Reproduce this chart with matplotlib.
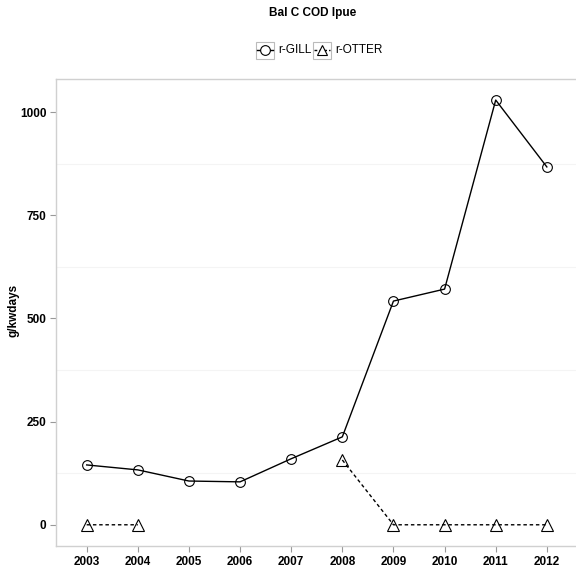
import matplotlib.pyplot as plt
from matplotlib.lines import Line2D
from matplotlib.patches import Rectangle
import numpy as np

years = [2003, 2004, 2005, 2006, 2007, 2008, 2009, 2010, 2011, 2012]
gill = [145, 133, 106, 104, 160, 213, 542, 571, 1029, 867]
otter = [0, 0, np.nan, np.nan, np.nan, 157, 0, 0, 0, 0]
yticks = [0, 250, 500, 750, 1000]
minor_y = [125, 375, 625, 875]

W, H = 576, 571


def main():
    plt.rcParams["font.family"] = ["Liberation Sans", "DejaVu Sans"]
    fig = plt.figure(figsize=(W / 100, H / 100), dpi=100)

    # axes in pixel terms: left 56, right 576, top 79, bottom 546
    ax = fig.add_axes([56 / W, (H - 546) / H, 520 / W, (546 - 79) / H])
    xpx = np.arange(len(years))
    ax.set_xlim(-0.6, (576 - 86) / 51.2)
    ax.set_ylim(-51.4, 1080)

    for y in minor_y:
        ax.axhline(y, color="#f4f4f4", lw=0.8, zorder=0)

    ax.plot(xpx, gill, color="black", lw=1.0, marker="o", ms=7,
            mfc="none", mec="black", mew=0.8)
    ax.plot(xpx, otter, color="black", lw=1.0, ls=(0, (2.5, 2)), marker="^",
            ms=8, mfc="none", mec="black", mew=0.8)

    ax.set_xticks(xpx)
    ax.set_xticklabels([str(y) for y in years], fontweight="bold", fontsize=8.5)
    ax.set_yticks(yticks)
    ax.set_yticklabels([str(y) for y in yticks], fontweight="bold", fontsize=8.5)
    ax.tick_params(length=4, width=0.8, color="#999999", pad=3)
    for side in ["left", "bottom", "top"]:
        ax.spines[side].set_color("#d0d0d0")
        ax.spines[side].set_linewidth(1.0)
    ax.spines["right"].set_visible(False)

    def px(x, y):
        return x / W, 1 - y / H

    lx, ly = px(14, 310)
    fig.text(lx, ly, "g/kwdays", rotation=90, ha="center", va="center",
             fontweight="bold", fontsize=8.5)

    tx, ty = px(313, 13)
    fig.text(tx, ty, "Bal C COD lpue", ha="center", va="center",
             fontweight="bold", fontsize=8.5)

    # legend keys with boxes
    keys = [(256, "r-GILL", "o", "-"), (313, "r-OTTER", "^", (0, (2, 1.5)))]
    for x0, lab, mk, ls in keys:
        bx, by = px(x0, 59)
        fig.patches.append(Rectangle((bx, by), 18 / W, 17 / H, transform=fig.transFigure,
                                     fill=False, ec="#bbbbbb", lw=0.8))
        lx0, ly = px(x0 + 1, 50)
        lx1, _ = px(x0 + 17, 50)
        fig.lines.append(Line2D([lx0, lx1], [ly, ly], transform=fig.transFigure,
                                color="black", lw=1.0, ls=ls))
        cx, _ = px(x0 + 9, 50)
        fig.lines.append(Line2D([cx], [ly], transform=fig.transFigure, marker=mk,
                                ms=7, mfc="white", mec="black", mew=0.8, ls="none"))
        tx, _ = px(x0 + 22, 50)
        fig.text(tx, ly, lab, ha="left", va="center", fontsize=8.5)

    fig.savefig("out.png", dpi=100)
    plt.close(fig)


if __name__ == "__main__":
    main()
